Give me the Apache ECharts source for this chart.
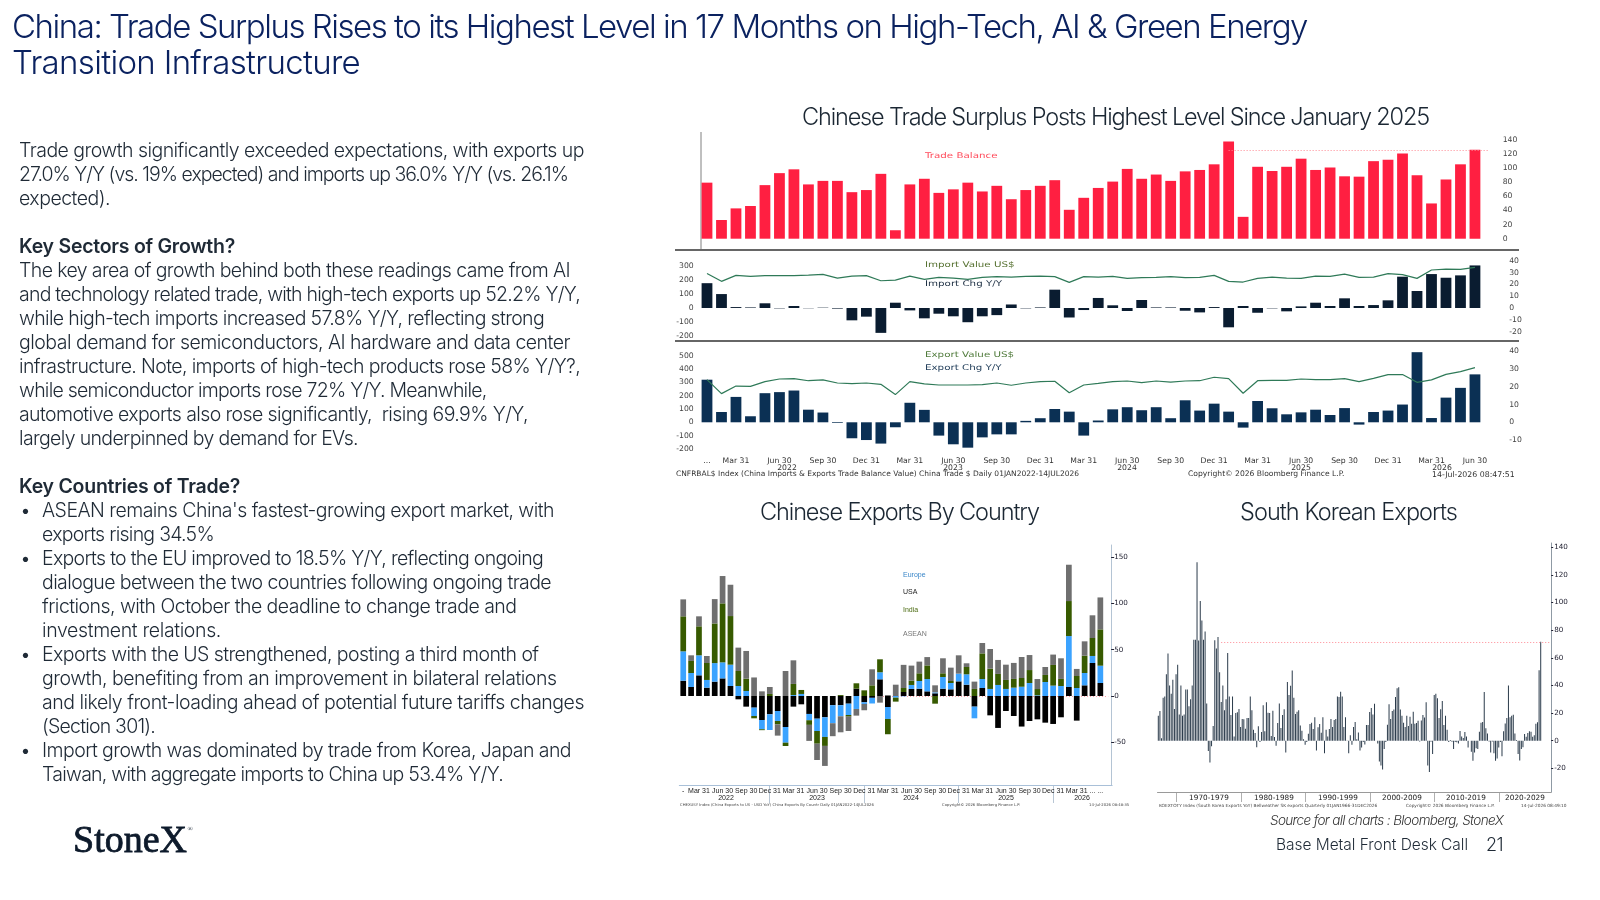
<!DOCTYPE html>
<html>
<head>
<meta charset="utf-8">
<title>China trade surplus</title>
<script src="https://cdn.jsdelivr.net/npm/echarts@6/dist/echarts.min.js"></script>
<style>
  html, body { margin: 0; padding: 0; background: #fff; }
  #slide { position: relative; width: 1600px; height: 900px; overflow: hidden; font-family: Inter, sans-serif; }
  #charts { position: absolute; left: 0; top: 0; width: 1600px; height: 900px; filter: blur(0.35px); }
  .t { position: absolute; white-space: pre; line-height: 1; transform: translateY(-50%); }
  .head { color: #0b2260; font-size: 33px; font-weight: 300; left: 12px; }
  .chart-title { color: #1b2733; font-size: 23.5px; font-weight: 300; }
  .body { color: #1f2a36; font-size: 19.5px; font-weight: 300; }
  .body.b { font-weight: 600; }
</style>
</head>
<body>
<div id="slide">
  <div id="charts"></div>
</div>
<script>
// Monthly tick labels, January 2022 to June 2026
const yearTicks = ['', '', 'Mar 31', '', '', 'Jun 30', '', '', 'Sep 30', '', '', 'Dec 31'];
const monthTicks = [...yearTicks, ...yearTicks, ...yearTicks, ...yearTicks, ...yearTicks].slice(0, 54);
monthTicks[0] = '...';

// Trade balance, US$ bn
const tradeBalance = [79.5,26.5,43,46.4,76,93,98.4,77,82,82,66,69,92,12,77,85,65,70,79.5,67,75,56,69,75,83,41,58,72,81,99,
  85,91,82,95.5,97.5,105.5,138,31,102,96,102,113.5,97.5,101,88.5,88,110,112,121,90,50,84,105.5,126];

// Imports: value (US$ bn) and change Y/Y (%)
const importValue = [245,189,231,224,229,229,229,233,238,212,226,229,193,198,226,203,217,212,203,217,222,219,224,226,222,182,222,219,
  224,210,215,217,222,215,217,231,189,184,210,219,212,210,226,224,240,217,219,243,236,210,269,276,274,288];
const importChg = [21,11.8,0.8,0.5,4,-0.3,1.7,-0.2,0.3,-0.5,-10.4,-7.3,-21,4.5,-2,-8.7,-4.8,-7,-12,-7,-6,3,-0.3,0.5,15.5,-8,-1.7,8.5,
  2.3,-2.5,6.8,0.5,0.5,-2.3,-3.7,0.8,-16.3,1.7,-4,-0.3,-2.8,1.4,4.5,1.7,8.2,1.7,2.5,6.5,26.5,14.4,28.7,25.6,27.6,36];

// Exports: value (US$ bn) and change Y/Y (%)
const exportValue = [320,215,272,270,305,325,328,312,318,295,290,295,285,208,305,288,280,280,280,282,295,278,295,305,308,222,280,292,
  305,310,298,310,302,310,312,338,328,218,312,315,315,325,320,320,328,305,330,358,358,300,318,360,380,410];
const exportChg = [24,5.8,14.3,3.4,16.4,17,17.9,7.1,5.5,-0.4,-9,-10,-12,-2.8,11,7,-7.5,-12.4,-14.3,-8.5,-6.8,-6.8,0.8,2.3,7.5,6,-7.5,1,
  7.3,8.5,6.8,8.5,2.3,12.4,6.6,10.5,6,-3,12,7.9,4.5,5.6,7.1,4.1,8,-1.3,5.8,6.6,10,39.5,2.4,13.9,19.4,27];

// Chinese exports by destination, % Y/Y
const usaExports = [16.5,9.7,22.3,9,15.5,19,10.8,-3.6,-11.5,-12.6,-25.9,-19.8,-16.2,-33.5,-11.5,-9,-19.4,-24.5,-23,-10,-10,-8.3,7.9,-6.8,-2,18,-11.9,0,
  4.3,7.6,7.9,5,2.9,7.9,7.2,15.8,12.2,-11.5,8.6,-20.9,-34.5,-16.2,-21.6,-33,-27,-25.2,-28.8,-30.2,-23,9.7,-26.6,11.5,35.6,14];
const europeExports = [31.7,15.1,21.6,8.3,20,17.3,23,10.8,5.4,-9,-10,-16.9,-10.8,-16.9,1,2.2,-6.8,-13.3,-21.2,-19.4,-11.9,-12.2,-14,-1.8,-6.1,7.6,-12.9,-1.8,
  -0.4,4.3,8.3,13.3,1,12.6,6.8,8.3,11.2,-12.6,9.7,7.6,11.9,7.6,9,10,14,0.7,15.1,11.2,10.8,55,8.6,13.3,7.6,18.7];
const indiaExports = [37.8,13,31.3,18.3,42.8,63.7,52.5,16.2,13.3,-2.5,-1,2.2,-3.6,-3.6,12,4.3,-5,-13.7,-9.7,0,1,-1.8,5.8,6.1,11.5,14,-16.5,-4.3,
  4.3,4.7,8.3,14.7,-8.3,4,2.2,0,7.9,7.6,27.7,21.9,11.9,9.7,9.4,9.4,14,6.8,7.6,22.3,7.6,37.8,13,18.7,19.4,39.2];
const aseanExports = [18.3,6.1,10.8,7.6,26.3,29.5,33.8,25.2,29.9,20,5,7.5,-12.2,27,25.5,0,-17.3,-17.6,-21.6,-14,-17.3,-15.5,-7.2,-6.8,17.3,-7.2,1,12.2,
  25,16.2,12.6,9,7.6,16.2,14.4,19.8,4,7.9,11.2,21.2,15.1,16.5,17.3,22.7,16.2,10.8,8.6,11.2,22.3,39.2,7.6,15.5,24.5,34.5];
const countryTicks = monthTicks.slice();
countryTicks[0] = '-';
countryTicks[52] = '...';
countryTicks[53] = '...';

// South Korea exports, % Y/Y, quarterly from 1967
const koreaExports = [18,21.5,1.7,31,32,48,63,40,34,44,23,48,55,19,40,18,19,37,37,25,30,40,73,73,129,72.5,101,87,73,79,27,-7.5,-15.7,-4,10.6,72.7,66.7,75,49.5,28,
  40,22,30,63.5,32,18.6,32,3,20,20.5,23,10,15.7,15.5,8.7,16.4,16.4,32,22,8,5.5,-4.8,10.4,-1,6.3,25.6,6.8,27.8,20.3,20,3.4,21.7,2.6,-3.6,12.8,27,9.2,18.6,22.7,-8.5,
  42.5,33,39.8,50.7,31,19.3,21,22,11,7.2,1,-3,-1,5,12,13,8.5,17,-7,9.7,12,5.8,17,-9,8,3,8.5,15.7,10,15,15.7,32,31.6,35.5,32,10,17,0.2,-9,4,
  -3,10,13.5,1,6,-7,-5,-1,-2.7,11.4,11.4,20.8,23.7,19,26.8,0,-2,-15,-18,-20.8,-6,-1,11.6,26.3,15.7,21.5,22.5,31.6,38,38.6,22.5,18,13,10,18,10.6,17.4,12.3,21,12.3,
  12.8,14.5,-0.5,14.7,18.6,16.7,27.8,-18,-22.7,-0.7,-9.7,33,34,30.7,16.4,22.7,28.7,11.4,18,8,-1,0.5,-0.7,-6,-1,-1.2,-2,7,3,2,6.3,3,-5,0,-8,-14.5,-8.5,-5.5,-6,6.5,
  13,13.5,35.3,9,5.3,-0.5,-8.5,-0.5,-9,-14.5,-12.8,-5,-1,-11.3,6.8,12.5,16.4,39.9,17,18,18.8,5.3,0.5,-9.7,-14.3,-6,-4.8,4.8,2.9,5.6,6.8,6.5,2.9,3.9,12.3,13.3,51,71.5];

// Axis tick values
const balanceTicks = [0,20,40,60,80,100,120,140];
const importValueTicks = [-200,-100,0,100,200,300];
const importChgTicks = [-20,-10,0,10,20,30,40];
const exportValueTicks = [-200,-100,0,100,200,300,400,500];
const exportChgTicks = [-10,0,10,20,30,40];
const countryValueTicks = [-50,0,50,100,150];
const koreaValueTicks = [-20,0,20,40,60,80,100,120,140];

// Slide copy: text, right edge of the line, kind of line
const heading = [
  ['China: Trade Surplus Rises to its Highest Level in 17 Months on High-Tech, AI & Green Energy', 1307],
  ['Transition Infrastructure', 360]
];
const commentary = [
  ['Trade growth significantly exceeded expectations, with exports up', 584],
  ['27.0% Y/Y (vs. 19% expected) and imports up 36.0% Y/Y (vs. 26.1%', 568],
  ['expected).', 110],
  [''],
  ['Key Sectors of Growth?', 235, 'b'],
  ['The key area of growth behind both these readings came from AI', 570],
  ['and technology related trade, with high-tech exports up 52.2% Y/Y,', 580],
  ['while high-tech imports increased 57.8% Y/Y, reflecting strong', 544],
  ['global demand for semiconductors, AI hardware and data center', 570],
  ['infrastructure. Note, imports of high-tech products rose 58% Y/Y?,', 580],
  ['while semiconductor imports rose 72% Y/Y. Meanwhile,', 486.5],
  ['automotive exports also rose significantly,  rising 69.9% Y/Y,', 528],
  ['largely underpinned by demand for EVs.', 358],
  [''],
  ['Key Countries of Trade?', 240, 'b'],
  ["ASEAN remains China's fastest-growing export market, with", 554, 'bullet'],
  ['exports rising 34.5%', 214, 'indent'],
  ['Exports to the EU improved to 18.5% Y/Y, reflecting ongoing', 543, 'bullet'],
  ['dialogue between the two countries following ongoing trade', 551, 'indent'],
  ['frictions, with October the deadline to change trade and', 516.5, 'indent'],
  ['investment relations.', 221, 'indent'],
  ['Exports with the US strengthened, posting a third month of', 538.5, 'bullet'],
  ['growth, benefiting from an improvement in bilateral relations', 556.5, 'indent'],
  ['and likely front-loading ahead of potential future tariffs changes', 584, 'indent'],
  ['(Section 301).', 155, 'indent'],
  ['Import growth was dominated by trade from Korea, Japan and', 571, 'bullet'],
  ['Taiwan, with aggregate imports to China up 53.4% Y/Y.', 503, 'indent']
];

const slide = document.getElementById('slide');
// Places one line of text and tracks it so it ends at the given right edge
function addText(text, cls, left, top, right, extra) {
  const el = document.createElement('div');
  el.className = 't ' + cls;
  el.textContent = text;
  el.style.left = left + 'px';
  el.style.top = top + 'px';
  if (extra) Object.assign(el.style, extra);
  slide.appendChild(el);
  if (right) {
    const width = el.getBoundingClientRect().width;
    el.style.letterSpacing = ((right - left - width) / text.length).toFixed(3) + 'px';
  }
}
heading.forEach((row, i) => addText(row[0], 'head', 12, 25.5 + i * 36, row[1]));
addText('Chinese Trade Surplus Posts Highest Level Since January 2025', 'chart-title', 802, 117, 1429);
addText('Chinese Exports By Country', 'chart-title', 760, 512, 1039);
addText('South Korean Exports', 'chart-title', 1240, 512, 1457);
commentary.forEach((row, i) => {
  const [text, right, kind] = row;
  if (!text) return;
  const y = 151 + i * 24;
  if (kind === 'bullet') addText('\u2022', 'body', 20, y);
  const x = kind === 'bullet' || kind === 'indent' ? 42 : 19;
  addText(text, 'body' + (kind === 'b' ? ' b' : ''), x, y, right);
});
addText('StoneX', '', 73, 839, 187, { fontFamily: '"Liberation Serif", serif', fontWeight: 400, WebkitTextStroke: '0.8px #0d1a2b', fontSize: '38px', color: '#0d1a2b' });
addText('\u00ae', '', 187.5, 829, null, { fontFamily: '"Liberation Serif", serif', fontSize: '7px', color: '#0d1a2b' });
addText('Source for all charts : Bloomberg, StoneX', '', 1270, 821, 1503, { fontStyle: 'italic', fontWeight: 300, fontSize: '13.5px', color: '#333' });
addText('Base Metal Front Desk Call', '', 1276, 845, 1468, { fontWeight: 300, fontSize: '15.5px', color: '#1f2a36' });
addText('21', '', 1486, 845, 1503, { fontWeight: 300, fontSize: '18px', color: '#1f2a36' });

// Chart furniture that sits outside the axes
const WIDE = '"DejaVu Sans", sans-serif';
const NARROW = '"Liberation Sans", sans-serif';
function label(text, x, y, size, fill, family, align, stretch) {
  return {
    type: 'text', silent: true, x, y, scaleX: stretch || 1,
    style: { text, x: 0, y: 0, fill, font: size + 'px ' + (family || WIDE), textAlign: align || 'left', textVerticalAlign: 'middle' }
  };
}
function rule(x1, y1, x2, y2, stroke, width) {
  return { type: 'line', silent: true, shape: { x1, y1, x2, y2 }, style: { stroke, lineWidth: width } };
}
const furniture = [
  rule(701, 132, 701, 250, '#808080', 1),
  rule(675, 250, 1519, 250, '#666', 2),
  rule(675, 341, 1519, 341, '#666', 2),
  label('Trade Balance', 925, 156, 7.8, '#ff4a5a', WIDE, 'left', 1.32),
  label('Import Value US$', 925, 265, 7.8, '#55702f', WIDE, 'left', 1.32),
  label('Import Chg Y/Y', 925, 284, 7.8, '#1c2e42', WIDE, 'left', 1.32),
  label('Export Value US$', 925, 355, 7.8, '#4f7a3a', WIDE, 'left', 1.32),
  label('Export Chg Y/Y', 925, 368, 7.8, '#24405c', WIDE, 'left', 1.32),
  label('2022', 787, 468, 7.7, '#333', WIDE, 'center'),
  label('2023', 953, 468, 7.7, '#333', WIDE, 'center'),
  label('2024', 1127, 468, 7.7, '#333', WIDE, 'center'),
  label('2025', 1301, 468, 7.7, '#333', WIDE, 'center'),
  label('2026', 1442, 468, 7.7, '#333', WIDE, 'center'),
  label('CNFRBAL$ Index (China Imports & Exports Trade Balance Value) China Trade $ Daily 01JAN2022-14JUL2026', 676, 474.5, 7.5, '#333'),
  label('Copyright\u00a9 2026 Bloomberg Finance L.P.', 1188, 474.5, 7.6, '#333'),
  label('14-Jul-2026 08:47:51', 1432, 474.5, 7.8, '#333'),

  label('Europe', 903, 575, 7, '#3a86c8', NARROW),
  label('USA', 903, 592, 7, '#222', NARROW),
  label('India', 903, 610, 7, '#4a6a10', NARROW),
  label('ASEAN', 903, 634, 7, '#777', NARROW),
  label('2022', 726, 798, 7, '#222', NARROW, 'center'),
  label('2023', 817, 798, 7, '#222', NARROW, 'center'),
  label('2024', 911, 798, 7, '#222', NARROW, 'center'),
  label('2025', 1006, 798, 7, '#222', NARROW, 'center'),
  label('2026', 1082, 798, 7, '#222', NARROW, 'center'),
  rule(769.5, 786, 769.5, 803, '#b8c6d4', 1),
  rule(864.5, 786, 864.5, 803, '#b8c6d4', 1),
  rule(958.5, 786, 958.5, 803, '#b8c6d4', 1),
  rule(1053.5, 786, 1053.5, 803, '#b8c6d4', 1),
  label('CHEXUSY Index (China Exports to US - USD YoY) China Exports By Countr Daily 01JAN2022-14JUL2026', 680, 805.5, 3.8, '#444'),
  label('Copyright\u00a9 2026 Bloomberg Finance L.P.', 942, 805.5, 3.8, '#444'),
  label('14-Jul-2026 08:48:35', 1089, 805.5, 3.8, '#444'),

  label('1970-1979', 1209, 798.5, 7.3, '#222', WIDE, 'center'),
  label('1980-1989', 1274, 798.5, 7.3, '#222', WIDE, 'center'),
  label('1990-1999', 1338, 798.5, 7.3, '#222', WIDE, 'center'),
  label('2000-2009', 1402, 798.5, 7.3, '#222', WIDE, 'center'),
  label('2010-2019', 1466, 798.5, 7.3, '#222', WIDE, 'center'),
  label('2020-2029', 1525, 798.5, 7.3, '#222', WIDE, 'center'),
  rule(1176.5, 792, 1176.5, 802, '#b0b0b0', 1),
  rule(1241.5, 792, 1241.5, 802, '#b0b0b0', 1),
  rule(1305.5, 792, 1305.5, 802, '#b0b0b0', 1),
  rule(1370.5, 792, 1370.5, 802, '#b0b0b0', 1),
  rule(1434.5, 792, 1434.5, 802, '#b0b0b0', 1),
  rule(1499.5, 792, 1499.5, 802, '#b0b0b0', 1),
  label('KOEXTOTY Index (South Korea Exports YoY) Bellweather SK exports Quarterly 01JAN1966-31DEC2026', 1159, 805.5, 4.3, '#444'),
  label('Copyright\u00a9 2026 Bloomberg Finance L.P.', 1406, 805.5, 4.3, '#444'),
  label('14-Jul-2026 08:49:10', 1521, 805.5, 4.3, '#444')
];

// Value axis shared setup: only the listed ticks get a label
function valueAxis(gridIndex, position, min, max, ticks, extra) {
  return Object.assign({
    type: 'value', gridIndex, position, min, max, scale: false,
    splitLine: { show: false }, axisLine: { show: false }, axisTick: { show: false },
    axisLabel: { customValues: ticks, color: '#444', fontSize: 7.7, fontFamily: 'DejaVu Sans', margin: 6, padding: [2, 0, 0, 0] }
  }, extra || {});
}
function hiddenCategoryAxis(gridIndex, data) {
  return { type: 'category', gridIndex, data, show: false };
}
function padded(labels, extra) {
  return labels.concat(new Array(extra).fill(''));
}

const option = {
  animation: false,
  backgroundColor: 'transparent',
  graphic: furniture,
  grid: [
    { left: 699.75, top: 140, width: 796.95, height: 98.7 },
    { left: 699.75, top: 260.7, width: 782.46, height: 75.6 },
    { left: 699.75, top: 351.3, width: 782.46, height: 97.7 },
    { left: 679.3, top: 545, width: 432.85, height: 240 },
    { left: 1157.5, top: 543, width: 393.7, height: 249 }
  ],
  xAxis: [
    hiddenCategoryAxis(0, padded(monthTicks, 1)),
    hiddenCategoryAxis(1, monthTicks),
    {
      type: 'category', gridIndex: 2, data: monthTicks, position: 'bottom',
      axisLine: { show: false }, axisTick: { show: false },
      axisLabel: { interval: 0, color: '#333', fontSize: 7.7, fontFamily: 'DejaVu Sans', margin: 8 }
    },
    {
      type: 'category', gridIndex: 3, data: padded(countryTicks, 1), position: 'bottom',
      axisLine: { onZero: false, lineStyle: { color: '#a9c0d8', width: 1 } }, axisTick: { show: false },
      axisLabel: { interval: 0, color: '#222', fontSize: 7, fontFamily: 'Liberation Sans', margin: 3 }
    },
    {
      type: 'category', gridIndex: 4, data: padded(koreaExports.map((_, i) => String(i)), 6), position: 'bottom',
      axisLine: { onZero: false, lineStyle: { color: '#9a9a9a', width: 1 } }, axisTick: { show: false },
      axisLabel: { show: false }
    }
  ],
  yAxis: [
    valueAxis(0, 'right', 0, 140, balanceTicks),
    valueAxis(1, 'left', -200, 335, importValueTicks),
    valueAxis(1, 'right', -23.9, 40, importChgTicks, { offset: 21 }),
    valueAxis(2, 'left', -200, 532.6, exportValueTicks),
    valueAxis(2, 'right', -15.05, 40, exportChgTicks, { offset: 21 }),
    {
      type: 'value', gridIndex: 3, position: 'right', min: -96.1, max: 163, offset: -1,
      splitLine: { show: false },
      axisLine: { show: true, lineStyle: { color: '#b4c4d4', width: 1 } },
      axisTick: { show: true, customValues: countryValueTicks, length: 3, lineStyle: { color: '#223', width: 1 } },
      axisLabel: { customValues: countryValueTicks, color: '#223', fontSize: 7.2, fontFamily: 'DejaVu Sans', margin: 3 }
    },
    {
      type: 'value', gridIndex: 4, position: 'right', min: -37.1, max: 143,
      splitLine: { show: false },
      axisLine: { show: true, lineStyle: { color: '#8f9aa4', width: 1 } },
      axisTick: { show: true, customValues: koreaValueTicks, length: 2, lineStyle: { color: '#223', width: 1 } },
      axisLabel: { customValues: koreaValueTicks, color: '#223', fontSize: 7.2, fontFamily: 'DejaVu Sans', margin: 3, padding: [1, 0, 0, 0] }
    }
  ],
  series: [
    {
      name: 'Trade Balance', type: 'bar', xAxisIndex: 0, yAxisIndex: 0, data: tradeBalance, barWidth: 10.8,
      itemStyle: { color: '#ff1f41' },
      markLine: {
        silent: true, symbol: 'none', label: { show: false },
        lineStyle: { color: '#ff8a94', type: [1, 2], width: 1 },
        data: [[{ xAxis: 36, yAxis: 126 }, { xAxis: 54, yAxis: 126 }]]
      }
    },
    { name: 'Import Chg Y/Y', type: 'bar', xAxisIndex: 1, yAxisIndex: 2, data: importChg, barWidth: 10.8, itemStyle: { color: '#0a1c30' } },
    { name: 'Import Value US$', type: 'line', xAxisIndex: 1, yAxisIndex: 1, data: importValue, symbol: 'none', lineStyle: { color: '#2f7a58', width: 1.2 } },
    { name: 'Export Chg Y/Y', type: 'bar', xAxisIndex: 2, yAxisIndex: 4, data: exportChg, barWidth: 10.8, itemStyle: { color: '#0b3054' } },
    { name: 'Export Value US$', type: 'line', xAxisIndex: 2, yAxisIndex: 3, data: exportValue, symbol: 'none', lineStyle: { color: '#2f7a58', width: 1.2 } },
    { name: 'USA', type: 'bar', stack: 'country', xAxisIndex: 3, yAxisIndex: 5, data: usaExports, barWidth: 5.7, itemStyle: { color: '#000' } },
    { name: 'Europe', type: 'bar', stack: 'country', xAxisIndex: 3, yAxisIndex: 5, data: europeExports, barWidth: 5.7, itemStyle: { color: '#3ba3ff' } },
    { name: 'India', type: 'bar', stack: 'country', xAxisIndex: 3, yAxisIndex: 5, data: indiaExports, barWidth: 5.7, itemStyle: { color: '#375a00' } },
    {
      name: 'ASEAN', type: 'bar', stack: 'country', xAxisIndex: 3, yAxisIndex: 5, data: aseanExports, barWidth: 5.7,
      itemStyle: { color: '#6f6f6f' },
      markLine: {
        silent: true, symbol: 'none', label: { show: false }, z: 1,
        lineStyle: { color: '#ff9aa4', type: [1, 2], width: 1 },
        data: [[{ xAxis: 25, yAxis: 0 }, { xAxis: 54, yAxis: 0 }]]
      }
    },
    {
      name: 'South Korea Exports', type: 'bar', xAxisIndex: 4, yAxisIndex: 6, data: koreaExports, barWidth: 0.9,
      itemStyle: { color: '#2b3b4b' },
      markLine: {
        silent: true, symbol: 'none', label: { show: false },
        lineStyle: { color: '#ff8a94', type: [1, 2], width: 1 },
        data: [[{ xAxis: 39, yAxis: 71.5 }, { xAxis: 243, yAxis: 71.5 }]]
      }
    }
  ]
};

const chart = echarts.init(document.getElementById('charts'));
chart.setOption(option);
</script>
</body>
</html>
